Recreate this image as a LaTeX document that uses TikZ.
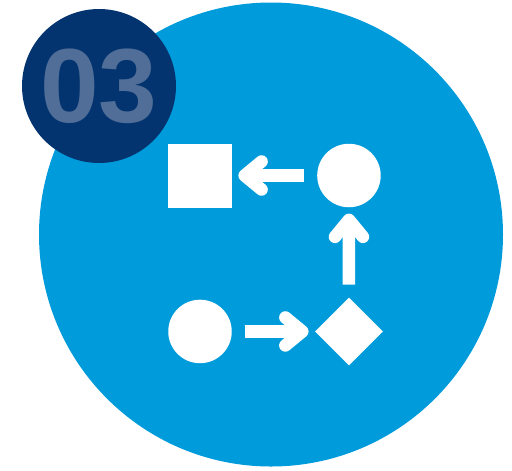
\documentclass[tikz,border=0pt]{standalone}
\usepackage{fontspec}
\setsansfont{Liberation Sans}
\usepackage{tikz}
\usetikzlibrary{positioning, arrows.meta, shapes.geometric}
\definecolor{skyblue}{RGB}{0, 155, 219}
\definecolor{navyblue}{RGB}{3, 52, 112}
\definecolor{steelgrey}{RGB}{80, 110, 151}
\tikzset{
  disc/.style={circle, fill=skyblue, draw=none, inner sep=0pt},
  badge/.style={circle, fill=navyblue, draw=none, inner sep=0pt,
    minimum size=3.08cm},
  badgenum/.style={font=\sffamily\bfseries\fontsize{60}{60}\selectfont,
    text=steelgrey, inner sep=0pt},
  sq/.style={rectangle, fill=white, minimum size=1.28cm, inner sep=0pt},
  dot/.style={circle, fill=white, minimum size=1.27cm, inner sep=0pt},
  gem/.style={diamond, fill=white, minimum width=1.36cm,
    minimum height=1.36cm, inner sep=0pt},
  flow/.style={draw=white, line width=0.25cm, line cap=butt,
    shorten <=0.25cm, shorten >=0.12cm},
}

\begin{document}
\begin{tikzpicture}[node distance=1.7cm and 1.7cm,
  >={Straight Barb[length=0.34cm, width=0.56cm, round]}]

\useasboundingbox (0,0) rectangle (10.24,-9.4);

\node[disc, minimum size=9.28cm] (bg) at (5.42,-4.69) {};
\node[badge] (badge) at (1.98,-1.72) {};
\node[badgenum] (num) at (badge.center) {03};

\node[sq] (square) at (4.0,-3.51) {};
\node[dot, right=1.69cm of square] (topdot) {};
\node[dot, below=1.83cm of square] (lowdot) {};
\node[gem, right=1.65cm of lowdot] (gem) {};

\draw[flow, ->] (topdot) -- (square);
\draw[flow, ->] (gem) -- (topdot);
\draw[flow, ->] (lowdot) -- (gem);

\end{tikzpicture}
\end{document}
